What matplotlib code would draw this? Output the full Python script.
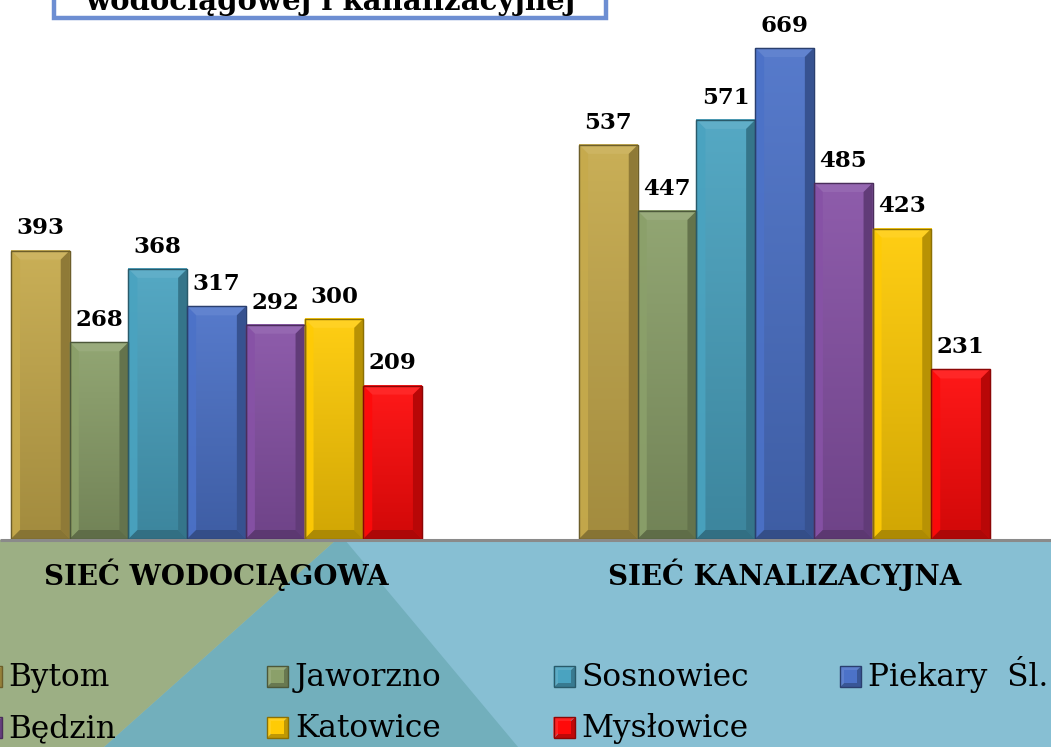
import numpy as np
import matplotlib
matplotlib.use("Agg")
import matplotlib.pyplot as plt
from matplotlib.patches import Polygon, Rectangle
from matplotlib.colors import to_rgb

# ---------------- data ----------------
groups = ["SIEĆ WODOCIĄGOWA", "SIEĆ KANALIZACYJNA"]
cities = ["Bytom", "Jaworzno", "Sosnowiec", "Piekary  Śl.", "Będzin", "Katowice", "Mysłowice"]
siec_wodociagowa = [393, 268, 368, 317, 292, 300, 209]
siec_kanalizacyjna = [537, 447, 571, 669, 485, 423, 231]
title_text = "wodociągowej i kanalizacyjnej"
colors = ["#c6aa4c", "#8ba06a", "#4aa3c0", "#4c72c8", "#8752a6", "#ffcb05", "#ff0a0a"]

values = [siec_wodociagowa, siec_kanalizacyjna]

W, H = 1051, 747
fig = plt.figure(figsize=(W / 100, H / 100), dpi=100)
fig.patch.set_facecolor("white")

# background axes in pixel coordinates (decoration only)
bg = fig.add_axes([0, 0, 1, 1], zorder=0)
bg.set_xlim(0, W)
bg.set_ylim(H, 0)
bg.axis("off")
bg.add_patch(Polygon([(0, 540), (W, 540), (W, H), (0, H)], closed=True, fc="#87bfd3", ec="none"))
bg.add_patch(Polygon([(336, 540), (345, 540), (518, H), (104, H)], closed=True, fc="#72afbc", ec="none"))
bg.add_patch(Polygon([(0, 540), (336, 540), (104, H), (0, H)], closed=True, fc="#9caf84", ec="none"))
bg.plot([0, W], [540, 540], color="#8a8a8a", lw=2.2, solid_capstyle="butt")

# title box (cut at the top, as in the reference)
bg.add_patch(Rectangle((54, -20), 552, 38, fc="white", ec="#6d8ed2", lw=3.2))
bg.text(330, 10, title_text, ha="center", va="baseline", fontsize=21,
        fontweight="bold", family="DejaVu Serif", color="black")

# ---------------- bars ----------------
ax = fig.add_axes([0, (H - 539) / H, 1, 539 / H], zorder=2)
ax.patch.set_alpha(0)
ax.axis("off")
ax.set_xlim(-216.5 / 568, (W - 216.5) / 568)
ax.set_ylim(0, 539 / 0.73393)

bw = 58.7 / 568
ncity = len(cities)
group_x = np.arange(len(groups))

# bevel sizes in data units
px_x = (ax.get_xlim()[1] - ax.get_xlim()[0]) / W
px_y = (ax.get_ylim()[1] - ax.get_ylim()[0]) / 539
bx, by = 9 * px_x, 9 * px_y


def shade(c, f):
    c = np.array(to_rgb(c))
    if f >= 1:
        return tuple(c + (1 - c) * (f - 1))
    return tuple(c * f)


grad = np.linspace(0, 1, 64).reshape(-1, 1)
for i, city in enumerate(cities):
    vals = [v[i] for v in values]
    xs = group_x + (i - (ncity - 1) / 2) * bw
    bars = ax.bar(xs, vals, width=bw, color=colors[i], edgecolor=shade(colors[i], 0.6),
                  linewidth=0.8, zorder=3)
    for b, val in zip(bars, vals):
        x0, w, h = b.get_x(), b.get_width(), b.get_height()
        x1 = x0 + w
        top_c = np.array(shade(colors[i], 1.06))
        bot_c = np.array(shade(colors[i], 0.82))
        img = top_c[None, None, :] * (1 - grad[:, :, None]) + bot_c[None, None, :] * grad[:, :, None]
        ax.imshow(img, extent=[x0, x1, 0, h], aspect="auto", zorder=3.2, origin="upper",
                  interpolation="bilinear")
        # bevel polygons
        ax.add_patch(Polygon([(x0, h), (x1, h), (x1 - bx, h - by), (x0 + bx, h - by)],
                             fc=shade(colors[i], 1.12), ec="none", zorder=3.4))
        ax.add_patch(Polygon([(x0, h), (x0 + bx, h - by), (x0 + bx, by), (x0, 0)],
                             fc=shade(colors[i], 1.0), ec="none", zorder=3.4, alpha=0.9))
        ax.add_patch(Polygon([(x1, h), (x1, 0), (x1 - bx, by), (x1 - bx, h - by)],
                             fc=shade(colors[i], 0.72), ec="none", zorder=3.4))
        ax.add_patch(Polygon([(x0, 0), (x1, 0), (x1 - bx, by), (x0 + bx, by)],
                             fc=shade(colors[i], 0.68), ec="none", zorder=3.4))
        ax.add_patch(Rectangle((x0, 0), w, h, fc="none", ec=shade(colors[i], 0.55),
                               lw=1.0, zorder=3.6))
        ax.annotate(f"{val}", (x0 + w / 2, h), xytext=(0, 8), textcoords="offset points",
                    ha="center", va="bottom", fontsize=16.5, fontweight="bold",
                    family="DejaVu Serif", color="black", zorder=5)

# ---------------- category labels ----------------
for gx, g in zip(group_x, groups):
    bg.text(216.5 + gx * 568, 575, g, ha="center", va="center", fontsize=20,
            fontweight="bold", family="DejaVu Serif", color="black")

# ---------------- legend (manual grid) ----------------
col_x = [-19.5, 267, 553.5, 840]
row_y = [686, 737]
ms = 21
for i, (city, col) in enumerate(zip(cities, colors)):
    r, cidx = divmod(i, 4)
    mx, base = col_x[cidx], row_y[r]
    my0 = base - 20  # top of marker
    my1 = my0 + ms
    bg.add_patch(Polygon([(mx, my0), (mx + ms, my0), (mx, my1)], fc=shade(col, 1.1), ec="none", zorder=3))
    bg.add_patch(Polygon([(mx + ms, my0), (mx + ms, my1), (mx, my1)], fc=shade(col, 0.75), ec="none", zorder=3))
    bg.add_patch(Rectangle((mx + 4, my0 + 4), ms - 8, ms - 8, fc=col, ec="none", zorder=3.1))
    bg.add_patch(Rectangle((mx, my0), ms, ms, fc="none", ec=shade(col, 0.55), lw=1.0, zorder=3.2))
    bg.text(mx + 28, base, city, ha="left", va="baseline", fontsize=22.5,
            family="DejaVu Serif", color="black")

fig.savefig("out.png", dpi=100)
